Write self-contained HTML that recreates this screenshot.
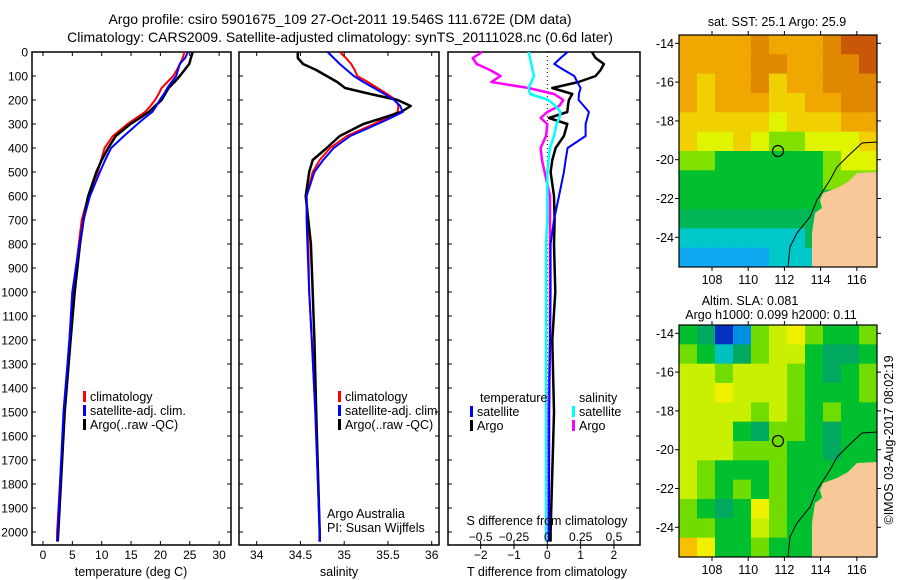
<!DOCTYPE html>
<html><head><meta charset="utf-8"><style>
body{margin:0;background:#fff}
svg{display:block;font-family:"Liberation Sans",sans-serif}
text{fill:#000}
</style></head><body>
<svg id="s" width="900" height="580" viewBox="0 0 900 580" xmlns="http://www.w3.org/2000/svg">
<text x="340" y="24" font-size="14" text-anchor="middle">Argo profile: csiro 5901675_109 27-Oct-2011 19.546S 111.672E (DM data)</text>
<text x="340" y="42" font-size="14" text-anchor="middle">Climatology: CARS2009. Satellite-adjusted climatology: synTS_20111028.nc (0.6d later)</text>
<g id="g"></g>
</svg>
<script>
const depths=[0,25,50,75,100,125,150,175,200,225,250,275,300,350,400,450,500,600,700,800,1000,1200,1500,2000,2040];
const tClim=[24.1,23.8,23.3,22.8,22.2,21.2,20.2,19.7,19.1,18.3,17.4,15.9,14.4,11.9,10.5,9.9,9.3,7.7,6.6,6.1,5.1,4.5,3.6,2.4,2.4];
const tSat=[24.7,24.2,23.3,23.0,22.7,21.9,21.2,20.6,19.9,19.3,18.6,17.3,16.1,13.8,11.6,10.6,9.7,8.0,6.9,6.2,5.0,4.5,3.5,2.5,2.4];
const tArgo=[25.5,25.2,24.9,24.1,23.3,22.4,21.4,20.8,20.2,19.1,18.0,16.5,14.9,12.4,11.1,10.0,9.1,7.7,6.9,6.3,5.4,4.7,3.7,2.6,2.5];
const sClim=[34.95,35.02,35.08,35.12,35.15,35.27,35.38,35.49,35.59,35.62,35.61,35.48,35.34,35.03,34.84,34.72,34.64,34.57,34.58,34.59,34.6,34.63,34.67,34.72,34.72];
const sSat=[34.81,34.88,34.95,35.03,35.11,35.22,35.34,35.46,35.57,35.64,35.67,35.53,35.38,35.07,34.88,34.76,34.66,34.57,34.57,34.58,34.6,34.63,34.67,34.72,34.72];
const sArgo=[34.47,34.47,34.53,34.68,34.8,34.92,35.01,35.3,35.61,35.76,35.65,35.44,35.22,34.95,34.8,34.64,34.6,34.56,34.59,34.62,34.64,34.66,34.68,34.72,34.72];
const dTSat=[0.61,0.4,0.21,0.5,0.81,0.9,1.0,0.95,0.94,1.1,1.25,1.2,1.15,1.15,0.61,0.55,0.5,0.35,0.2,0.1,0.1,0.08,0.06,0.05,0.05];
const dTArgo=[1.34,1.45,1.7,1.6,1.45,0.94,0.15,0.75,0.65,0.62,0.6,0.05,0.6,0.5,0.25,0.15,0.1,0.2,0.22,0.2,0.24,0.15,0.2,0.1,0.1];
const dSSat=[-0.14,-0.13,-0.12,-0.11,-0.1,-0.12,-0.14,-0.13,0.01,0.06,0.1,0.09,0.07,0.05,0.02,0.01,0,0,0,-0.01,-0.01,-0.01,-0.01,-0.01,-0.01];
const dSArgo=[-0.49,-0.56,-0.53,-0.43,-0.35,-0.42,-0.14,0.05,0.12,0.09,0,-0.05,0,-0.01,-0.05,-0.04,-0.02,0.02,0.02,0.02,0.02,0.02,0.01,0.01,0.01];
const depthTicks=[0,100,200,300,400,500,600,700,800,900,1000,1100,1200,1300,1400,1500,1600,1700,1800,1900,2000];
const tTicks=[0,5,10,15,20,25,30];
const sTicks=[34,34.5,35,35.5,36];
const dTTicks=[-2,-1,0,1,2];
const dSTicks=[-0.5,-0.25,0,0.25,0.5];
const lonTicks=[108,110,112,114,116];
const latTicks=[-14,-16,-18,-20,-22,-24];
// SST map grid (rows lat -14..-25, cols lon ~106.7..116.6), -1 = land
const sstGrid=[
[8,8,8,8,9,8,8,8,9,10,10],[8,8,8,8,9,9,8,8,9,9,10],[8,7,8,8,9,7,8,8,9,9,9],[8,7,8,8,8,7,7,8,8,9,9],
[7,7,7,7,7,6,7,7,7,8,8],[7,6,6,7,6,5,5,6,6,6,7],[5,5,4,4,4,4,4,4,5,6,6],[4,4,4,4,4,4,4,4,5,5,5],
[4,4,4,4,4,4,4,4,4,4,4],[3,3,3,3,3,3,3,3,3,3,3],[2,2,2,2,2,2,2,3,3,3,3],[1,1,1,1,1,2,2,2,2,2,2]];
const slaGrid=[
[4,3,0,1,5,6,7,5,4,4,5],[5,4,2,3,5,6,6,4,3,3,4],[6,6,5,6,6,6,5,4,3,4,5],[6,6,7,6,6,6,5,4,4,4,5],
[6,6,6,6,5,6,5,4,5,4,4],[6,6,6,4,3,5,5,4,3,4,4],[6,6,6,5,5,5,4,4,3,4,4],[6,5,4,4,4,5,4,4,4,4,4],
[6,5,4,5,4,5,4,4,4,4,4],[5,4,3,4,7,5,4,4,4,4,4],[5,5,4,4,6,5,4,4,4,4,4],[8,7,4,4,5,4,4,4,4,4,4]];
const sstPal=['#1060e0','#10a8f0','#00c8c8','#00b858','#00c030','#80e000','#e0f400','#f0d000','#f0a800','#e08800','#c85808'];
const slaPal=['#0830c0','#0090e0','#00c0c0','#00a860','#00c030','#70dc00','#c8f000','#f0f000','#f8c000'];

const NS='http://www.w3.org/2000/svg';
const G=document.getElementById('g');
function mk(tag,attrs,parent){const e=document.createElementNS(NS,tag);for(const k in attrs)e.setAttribute(k,attrs[k]);(parent||G).appendChild(e);return e;}
function txt(x,y,s,anchor,size,parent){const e=mk('text',{x:x,y:y,'font-size':size||12,'text-anchor':anchor||'middle'},parent);e.textContent=s;return e;}

const yTop=52, yBot=545;
function yD(d){return yTop+d*0.24;}
const panels=[
 {name:'temperature-panel',x0:32,x1:231,fx:v=>43+v*5.87},
 {name:'salinity-panel',x0:239,x1:439,fx:v=>256.7+(v-34)*87.5},
 {name:'difference-panel',x0:448,x1:640,fx:v=>547.3+v*33.3,fs:v=>547.3+v*133.3}
];
panels.forEach((p,i)=>{
  const f=mk('rect',{x:p.x0,y:yTop,width:p.x1-p.x0,height:yBot-yTop,fill:'none',stroke:'#000','stroke-width':1.5});
  
  
  depthTicks.forEach(d=>{
    mk('line',{x1:p.x0,x2:p.x0+4,y1:yD(d),y2:yD(d),stroke:'#000'});
    mk('line',{x1:p.x1-4,x2:p.x1,y1:yD(d),y2:yD(d),stroke:'#000'});
  });
});
depthTicks.forEach(d=>{
  const t=txt(28,yD(d)+4.5,String(d),'end',12);
  
  
});
function line(xs,fx,color,w,name){
  const pts=xs.map((v,i)=>fx(v).toFixed(1)+','+yD(depths[i]).toFixed(1)).join(' ');
  const e=mk('polyline',{points:pts,fill:'none',stroke:color,'stroke-width':w,'stroke-linejoin':'round'});
  
  
}
const P1=panels[0],P2=panels[1],P3=panels[2];
line(tClim,P1.fx,'#f00',2,'temp-climatology-line');
line(tArgo,P1.fx,'#000',2.5,'temp-argo-line');
line(tSat,P1.fx,'#00f',2,'temp-satellite-line');
line(sClim,P2.fx,'#f00',2,'sal-climatology-line');
line(sArgo,P2.fx,'#000',2.5,'sal-argo-line');
line(sSat,P2.fx,'#00f',2,'sal-satellite-line');
mk('line',{x1:P3.fx(0),x2:P3.fx(0),y1:yTop,y2:yBot,stroke:'#000','stroke-dasharray':'1,3'});
line(dSArgo,P3.fs,'#f0f',2.5,'sdiff-argo-line');
line(dTArgo,P3.fx,'#000',2.5,'tdiff-argo-line');
line(dTSat,P3.fx,'#00f',2,'tdiff-satellite-line');
line(dSSat,P3.fs,'#0ff',2.5,'sdiff-satellite-line');

tTicks.forEach(v=>{const x=P1.fx(v);mk('line',{x1:x,x2:x,y1:yBot,y2:yBot-4,stroke:'#000'});mk('line',{x1:x,x2:x,y1:yTop,y2:yTop+4,stroke:'#000'});
  const t=txt(x,559,String(v));});
sTicks.forEach(v=>{const x=P2.fx(v);mk('line',{x1:x,x2:x,y1:yBot,y2:yBot-4,stroke:'#000'});mk('line',{x1:x,x2:x,y1:yTop,y2:yTop+4,stroke:'#000'});
  const t=txt(x,559,String(v));});
dTTicks.forEach(v=>{const x=P3.fx(v);mk('line',{x1:x,x2:x,y1:yBot,y2:yBot+4,stroke:'#000'});
  const t=txt(x,559,String(v).replace('-','\u2212'));});
dSTicks.forEach(v=>{const x=P3.fs(v);mk('line',{x1:x,x2:x,y1:yBot,y2:yBot-4,stroke:'#000'});
  const t=txt(x,541,String(v).replace('-','\u2212'));});
[[131,576,'temperature (deg C)','temp-axis-title'],[339,576,'salinity','sal-axis-title'],[547,576,'T difference from climatology','tdiff-axis-title'],[547,525,'S difference from climatology','sdiff-axis-title']].forEach(a=>{
  const t=txt(a[0],a[1],a[2],'middle',12.5);});

function legend(x,y,color,label){
  const g=mk('g',{});
  
  
  if(color)mk('rect',{x:x,y:y-10,width:3,height:11,fill:color},g);
  txt(x+7,y,label,'start',12.5,g);
}
[[397,'#f00','climatology'],[411,'#00f','satellite-adj. clim.'],[425,'#000','Argo(..raw -QC)']].forEach(e=>{legend(83,e[0]+4,e[1],e[2]);legend(338,e[0]+4,e[1],e[2]);});
txt(327,518,'Argo Australia','start',12.5);
txt(327,532,'PI: Susan Wijffels','start',12.5);
legend(473,402,null,'temperature');legend(572,402,null,'salinity');
legend(470,416,'#00f','satellite');legend(470,430,'#000','Argo');
legend(572,416,'#0ff','satellite');legend(572,430,'#f0f','Argo');

// maps
function lonX(l){return 712+(l-108)*18.1;}
function drawMap(off,grid,pal,name){
  const x0=679,x1=877,y0=35+off,y1=267+off;
  const cw=(x1-x0)/11,ch=(y1-y0)/12;
  grid.forEach((row,r)=>row.forEach((v,c)=>{
    const e=mk('rect',{x:(x0+c*cw).toFixed(2),y:(y0+r*ch).toFixed(2),width:(cw+0.5).toFixed(2),height:(ch+0.5).toFixed(2),fill:pal[v]});
    
    
  }));
  const land=mk('polygon',{points:[[877,172],[857,173],[848,182],[837,188],[823,193],[820,200],[822,208],[815,213],[812,233],[812,267],[877,267]].map(p=>p[0]+','+(p[1]+off)).join(' '),fill:'#f8c898'});
  
  
  mk('polyline',{points:[[877,142],[862,143],[847,157],[837,167],[830,180],[817,200],[810,217],[797,233],[790,247],[788,267]].map(p=>p[0]+','+(p[1]+off)).join(' '),fill:'none',stroke:'#000','stroke-width':1});
  const c=mk('circle',{cx:778,cy:151+off,r:5.5,fill:'none',stroke:'#000','stroke-width':1.2});
  
  
  const fr=mk('rect',{x:x0,y:y0,width:x1-x0,height:y1-y0,fill:'none',stroke:'#000','stroke-width':1.2});
  
  
  lonTicks.forEach(l=>{const x=lonX(l);mk('line',{x1:x,x2:x,y1:y1,y2:y1+4,stroke:'#000'});mk('line',{x1:x,x2:x,y1:y0,y2:y0-4,stroke:'#000'});
    const t=txt(x,y1+17,String(l),'middle',12.5);});
  latTicks.forEach(l=>{const y=43.3+(-14-l)*19.4+off;mk('line',{x1:x0-4,x2:x0,y1:y,y2:y,stroke:'#000'});mk('line',{x1:x1,x2:x1+4,y1:y,y2:y,stroke:'#000'});
    const t=txt(674,y+4.5,String(l).replace('-','-'),'end',12.5);});
}
drawMap(0,sstGrid,sstPal,'sst-map');
drawMap(290,slaGrid,slaPal,'sla-map');
txt(777,26,'sat. SST: 25.1 Argo: 25.9','middle',12.5);
txt(750,305,'Altim. SLA: 0.081','middle',12.5);
txt(771,319,'Argo h1000: 0.099 h2000: 0.11','middle',12.5);
const cp=txt(0,0,'\u00a9IMOS 03-Aug-2017 08:02:19','middle',12.5);
cp.setAttribute('transform','translate(893,440) rotate(-90)');


</script>
</body></html>
